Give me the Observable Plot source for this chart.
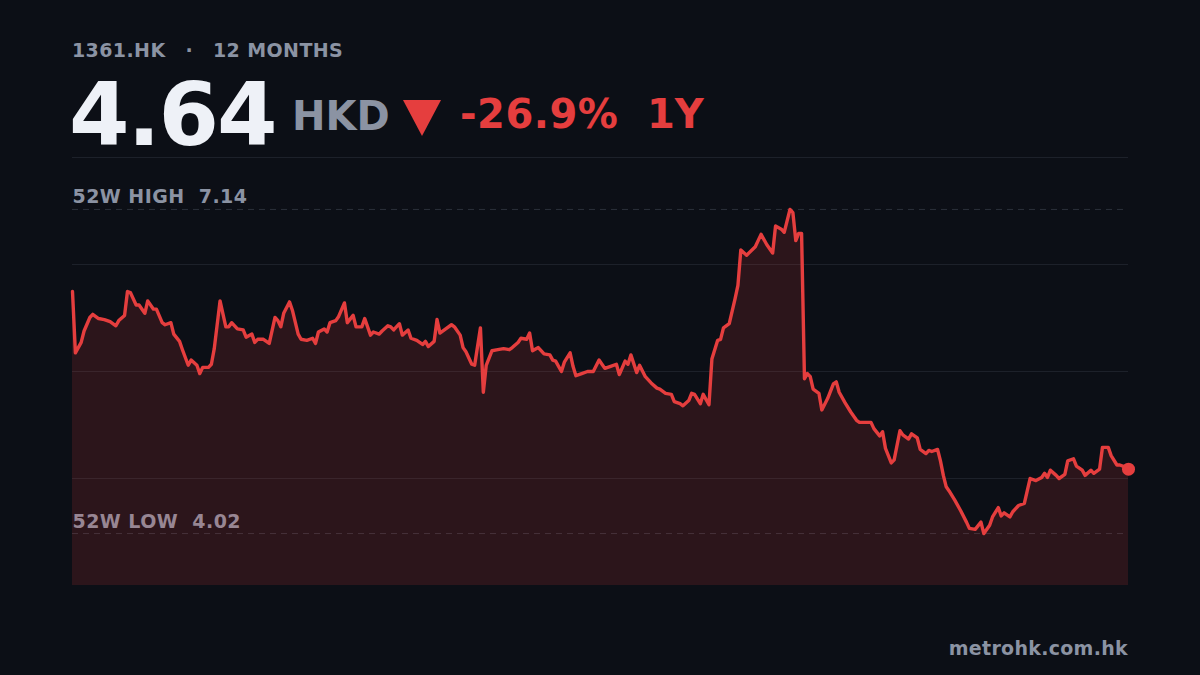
<!DOCTYPE html>
<html>
<head>
<meta charset="utf-8">
<script src="https://cdn.jsdelivr.net/npm/d3@7"></script>
<script src="https://cdn.jsdelivr.net/npm/@observablehq/plot@0.6"></script>
<style>
html, body { margin: 0; padding: 0; background: #0c0f16; }
#wrap { position: relative; width: 1200px; height: 675px; overflow: hidden; font-family: "DejaVu Sans", sans-serif; }
#wrap svg { display: block; }
#wrap svg text { white-space: pre; }
#overlay { position: absolute; left: 0; top: 0; }
</style>
</head>
<body>
<div id="wrap"></div>
<script>
// ---- texts ----
const ticker = "1361.HK";
const period = "12 MONTHS";
const lastPrice = "4.64";
const currency = "HKD";
const changeText = "-26.9%";
const rangeText = "1Y";
const source = "metrohk.com.hk";

// ---- 52-week levels ----
const high52 = 7.14;
const low52 = 4.02;
const yDomain = [3.52, 7.64];

// ---- series: calendar day offset within the 12 months, closing price (HKD) ----
const days = [0,1,3,4,6,7,9,11,13,15,16,18,19,20,22,23,25,26,28,29,31,32,34,35,37,38,40,41,43,44,45,47,48,49,51,53,54,55,57,59,60,62,63,64,66,68,70,71,72,73,75,76,78,79,81,83,84,85,87,88,89,91,92,94,95,97,98,100,101,103,104,106,107,109,110,111,113,114,116,117,119,121,122,123,125,126,127,129,131,132,134,135,136,138,139,141,142,143,145,147,149,151,152,154,155,157,158,159,161,163,165,166,167,169,170,172,173,174,176,178,180,182,184,186,188,189,191,192,193,195,196,198,200,202,203,205,207,208,210,211,213,214,215,217,218,220,221,223,224,225,227,229,230,231,233,236,238,240,242,243,245,246,248,249,250,251,252,253,254,255,256,258,259,261,263,264,265,267,269,271,272,274,276,277,279,280,281,283,284,286,287,289,290,292,293,295,296,297,299,300,301,302,303,305,307,309,310,312,314,315,317,318,320,321,322,324,325,327,329,330,331,333,335,336,337,338,340,341,343,344,346,347,349,350,352,353,355,356,358,359,361,362,364,365];
const prices = [6.35,5.76,5.86,5.97,6.10,6.13,6.09,6.08,6.06,6.02,6.07,6.12,6.35,6.34,6.22,6.22,6.14,6.26,6.18,6.18,6.05,6.03,6.05,5.94,5.87,5.79,5.64,5.69,5.64,5.56,5.62,5.62,5.65,5.80,6.26,6.01,6.01,6.05,5.99,5.98,5.91,5.94,5.86,5.89,5.89,5.85,6.10,6.07,6.01,6.14,6.25,6.17,5.94,5.89,5.88,5.90,5.85,5.96,5.99,5.96,6.05,6.07,6.11,6.24,6.05,6.12,6.01,6.01,6.09,5.93,5.96,5.94,5.97,6.02,6.01,5.98,6.04,5.93,5.98,5.90,5.88,5.84,5.87,5.82,5.87,6.08,5.95,5.99,6.03,6.01,5.93,5.81,5.77,5.65,5.64,6.00,5.38,5.64,5.78,5.79,5.80,5.79,5.81,5.86,5.90,5.89,5.95,5.78,5.81,5.75,5.74,5.69,5.68,5.58,5.67,5.76,5.63,5.54,5.56,5.58,5.58,5.69,5.61,5.63,5.65,5.55,5.68,5.65,5.74,5.57,5.64,5.53,5.47,5.42,5.41,5.37,5.36,5.29,5.27,5.25,5.30,5.37,5.36,5.27,5.36,5.26,5.70,5.88,5.89,6.00,6.04,6.28,6.41,6.75,6.70,6.78,6.90,6.80,6.72,6.98,6.95,6.92,7.14,7.11,6.84,6.91,6.91,5.51,5.56,5.53,5.41,5.37,5.21,5.32,5.46,5.48,5.38,5.28,5.19,5.11,5.09,5.09,5.09,5.03,4.96,5.00,4.84,4.70,4.73,5.01,4.97,4.93,4.98,4.94,4.83,4.79,4.82,4.81,4.83,4.72,4.58,4.47,4.43,4.34,4.24,4.13,4.07,4.06,4.13,4.02,4.10,4.18,4.27,4.19,4.22,4.18,4.23,4.29,4.31,4.43,4.55,4.53,4.56,4.60,4.56,4.63,4.58,4.55,4.59,4.72,4.74,4.67,4.63,4.58,4.63,4.60,4.64,4.85,4.85,4.77,4.68,4.68,4.66,4.64];

// ---- colours ----
const red = "#e53e3e";
const grey = "#8b93a3";
const white = "#eef1f7";
const gridColor = "#1d212a";
const dashColor = "#2b303a";
const font = "DejaVu Sans, sans-serif";

const data = days.map((d, i) => ({ day: d, price: prices[i] }));
const last = data[data.length - 1];
const span = yDomain[1] - yDomain[0];
const gridValues = [1, 2, 3, 4].map(k => yDomain[0] + span * k / 4);
const levels = [
  { label: `52W HIGH  ${high52.toFixed(2)}`, value: high52 },
  { label: `52W LOW  ${low52.toFixed(2)}`, value: low52 }
];

const chart = Plot.plot({
  width: 1200,
  height: 675,
  marginTop: 157,
  marginBottom: 90,
  marginLeft: 72,
  marginRight: 72,
  x: { domain: [days[0], days[days.length - 1]], axis: null },
  y: { domain: yDomain, axis: null },
  style: { background: "transparent", fontFamily: font },
  marks: [
    Plot.ruleY(gridValues, { stroke: gridColor, strokeWidth: 1 }),
    Plot.ruleY(levels, { y: "value", stroke: dashColor, strokeWidth: 1, strokeDasharray: "6,5" }),
    Plot.text(levels, {
      x: () => days[0], y: "value", text: "label",
      textAnchor: "start", lineAnchor: "bottom", dy: -6,
      fill: grey, fontSize: 19, fontWeight: "bold", fontFamily: font,
      letterSpacing: 0.45
    }),
    Plot.areaY(data, { x: "day", y1: () => yDomain[0], y2: "price", fill: red, fillOpacity: 0.15 }),
    Plot.lineY(data, { x: "day", y: "price", stroke: red, strokeWidth: 3.4, strokeLinejoin: "round", strokeLinecap: "round" }),
    Plot.dot([last], { x: "day", y: "price", r: 6.5, fill: red, stroke: "none" })
  ]
});

const wrap = document.getElementById("wrap");
wrap.appendChild(chart);
d3.select(chart).selectAll("text").attr("letter-spacing", 0.45);

// ---- header and footer ----
const ov = d3.select(wrap).append("svg")
  .attr("id", "overlay").attr("width", 1200).attr("height", 675)
  .style("font-family", font).style("font-weight", "bold");

ov.append("text").attr("x", 72).attr("y", 57).attr("font-size", 19).attr("letter-spacing", 0.4).attr("fill", grey).text(ticker);
ov.append("text").attr("x", 189).attr("y", 57).attr("font-size", 19).attr("text-anchor", "middle").attr("fill", grey).text("·");
ov.append("text").attr("x", 213).attr("y", 57).attr("font-size", 19).attr("letter-spacing", 0.4).attr("fill", grey).text(period);

ov.append("text").attr("x", 69).attr("y", 145).attr("font-size", 87).attr("letter-spacing", -2).attr("fill", white).text(lastPrice);
ov.append("text").attr("x", 292).attr("y", 130).attr("font-size", 40).attr("fill", grey).text(currency);
ov.append("polygon").attr("points", "403,100 441,100 422,136").attr("fill", red);
ov.append("text").attr("x", 460).attr("y", 128).attr("font-size", 40).attr("letter-spacing", 0.5).attr("fill", red).text(changeText);
ov.append("text").attr("x", 647).attr("y", 128).attr("font-size", 40).attr("fill", red).text(rangeText);

ov.append("text").attr("x", 1128).attr("y", 655).attr("font-size", 19).attr("text-anchor", "end").attr("letter-spacing", 0.3).attr("fill", grey).text(source);
</script>
</body>
</html>
